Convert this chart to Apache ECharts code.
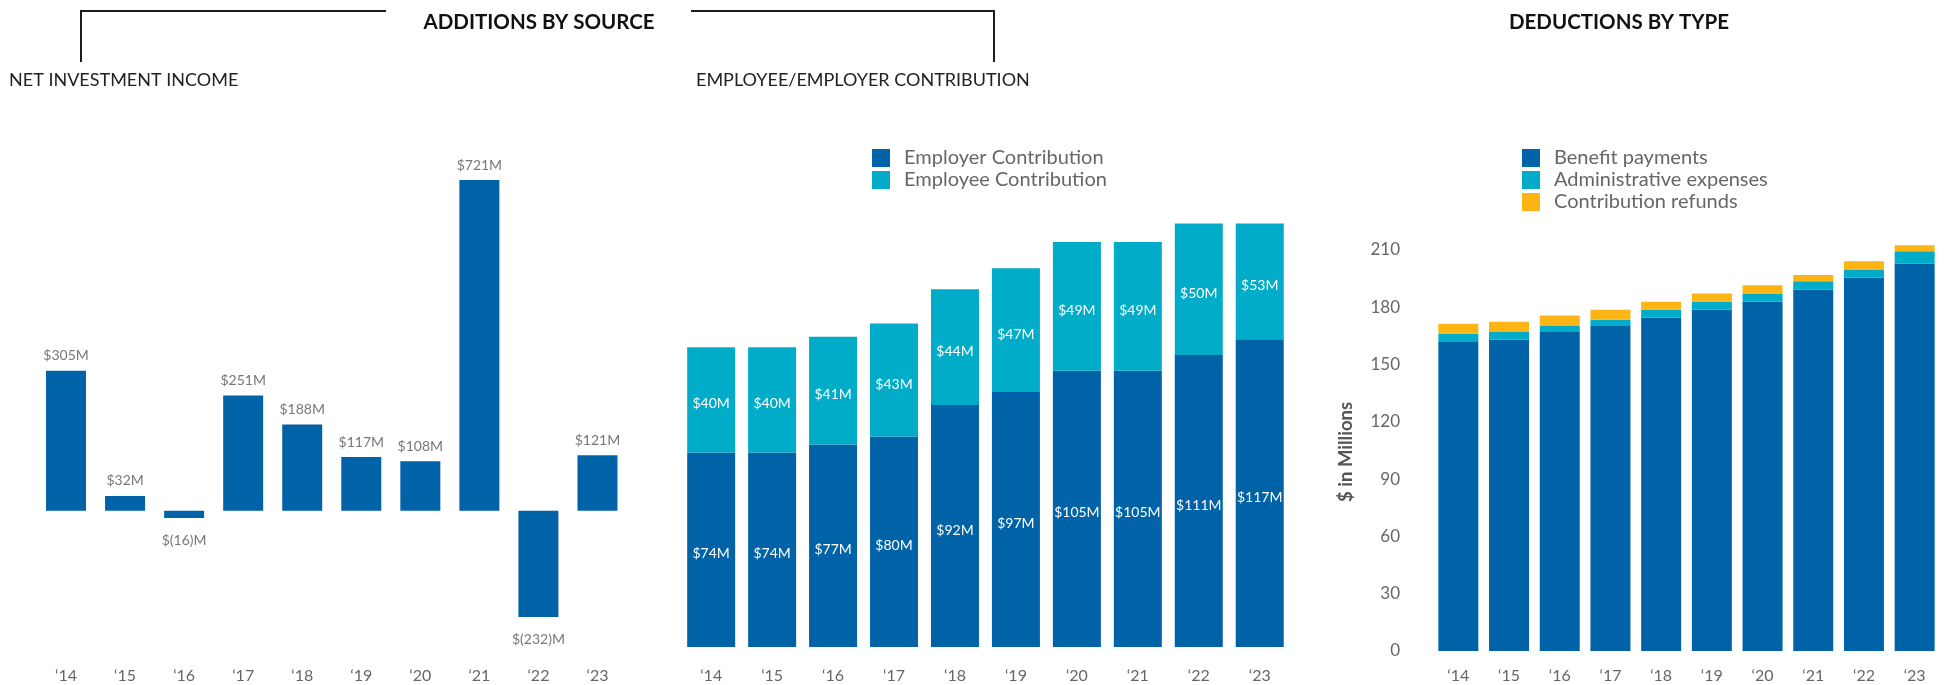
<!DOCTYPE html>
<html>
<head>
<meta charset="utf-8">
<title>Additions and Deductions</title>
<script src="https://cdn.jsdelivr.net/npm/echarts@6/dist/echarts.min.js"></script>
<style>
  html, body { margin: 0; padding: 0; background: #fff; }
  #chart { width: 1948px; height: 685px; }
</style>
</head>
<body>
<div id="chart"></div>
<script>
// Fiscal years shown on every panel
const years = ['\u201814', '\u201815', '\u201816', '\u201817', '\u201818', '\u201819', '\u201820', '\u201821', '\u201822', '\u201823'];

// Net investment income ($ millions)
const netInvestment = [305, 32, -16, 251, 188, 117, 108, 721, -232, 121];

// Contributions ($ millions)
const employerContribution = [74, 74, 77, 80, 92, 97, 105, 105, 111, 117];
const employeeContribution = [40, 40, 41, 43, 44, 47, 49, 49, 50, 53];

// Deductions ($ millions)
const benefitPayments = [161.8, 162.9, 167.0, 170.2, 174.5, 178.6, 182.9, 189.3, 195.6, 202.9];
const adminExpenses = [4.3, 4.1, 3.2, 3.2, 4.1, 4.3, 4.3, 4.3, 4.1, 6.4];
const contributionRefunds = [5.2, 5.4, 5.4, 5.2, 4.3, 4.3, 4.3, 3.2, 4.3, 3.2];

const BLUE = '#0063a7';
const TEAL = '#00acc8';
const GOLD = '#fdb515';
const FONT = 'Lato, "Open Sans", sans-serif';

function money(v) {
  return v < 0 ? '$(' + (-v) + ')M' : '$' + v + 'M';
}

const xLabelStyle = { color: '#666', fontSize: 16, fontFamily: FONT };
const legendText = { color: '#666', fontSize: 20, fontFamily: FONT, padding: [0, 0, 0, 9] };

const chart = echarts.init(document.getElementById('chart'), null, { renderer: 'canvas' });

const option = {
  animation: false,
  textStyle: { fontFamily: FONT },
  title: [
    {
      text: 'ADDITIONS BY SOURCE', left: 534, top: 7, textAlign: 'center',
      textStyle: { fontSize: 20.5, fontWeight: 'bold', color: '#111', fontFamily: FONT }
    },
    {
      text: 'DEDUCTIONS BY TYPE', left: 1614, top: 7, textAlign: 'center',
      textStyle: { fontSize: 20.5, fontWeight: 'bold', color: '#111', fontFamily: FONT }
    },
    {
      text: 'NET INVESTMENT INCOME', left: 4, top: 66,
      textStyle: { fontSize: 18, fontWeight: 'normal', color: '#222', fontFamily: FONT }
    },
    {
      text: 'EMPLOYEE/EMPLOYER CONTRIBUTION', left: 691, top: 66,
      textStyle: { fontSize: 18, fontWeight: 'normal', color: '#222', fontFamily: FONT }
    }
  ],
  graphic: [
    {
      type: 'polyline', silent: true,
      shape: { points: [[81, 62], [81, 11], [386, 11]] },
      style: { stroke: '#1a1a1a', lineWidth: 2, fill: null }
    },
    {
      type: 'polyline', silent: true,
      shape: { points: [[691, 11], [994, 11], [994, 62]] },
      style: { stroke: '#1a1a1a', lineWidth: 2, fill: null }
    }
  ],
  legend: [
    {
      data: ['Employer Contribution', 'Employee Contribution'],
      orient: 'vertical', left: 867, top: 143,
      itemWidth: 18, itemHeight: 18, itemGap: 2,
      icon: 'rect',
      selectedMode: false,
      textStyle: legendText
    },
    {
      data: ['Benefit payments', 'Administrative expenses', 'Contribution refunds'],
      orient: 'vertical', left: 1517, top: 143,
      itemWidth: 18, itemHeight: 18, itemGap: 2,
      icon: 'rect',
      selectedMode: false,
      textStyle: legendText
    }
  ],
  grid: [
    { left: 36.5, right: 1321, top: 166.7, bottom: 23 },
    { left: 680.7, right: 657.8, top: 223.6, bottom: 38 },
    { left: 1433, right: 8, top: 230.8, bottom: 34 }
  ],
  xAxis: [
    {
      type: 'category', gridIndex: 0, data: years, position: 'bottom',
      axisLine: { show: false }, axisTick: { show: false },
      axisLabel: Object.assign({ margin: 6 }, xLabelStyle)
    },
    {
      type: 'category', gridIndex: 1, data: years,
      axisLine: { show: false }, axisTick: { show: false },
      axisLabel: Object.assign({ margin: 21 }, xLabelStyle)
    },
    {
      type: 'category', gridIndex: 2, data: years,
      axisLine: { show: false }, axisTick: { show: false },
      axisLabel: Object.assign({ margin: 17 }, xLabelStyle)
    }
  ],
  yAxis: [
    {
      type: 'value', gridIndex: 0, min: -330, max: 750, show: false
    },
    {
      type: 'value', gridIndex: 1, min: 0, max: 161, show: false
    },
    {
      type: 'value', gridIndex: 2, min: 0, max: 220, interval: 30,
      axisLine: { show: false }, axisTick: { show: false },
      splitLine: { show: false },
      axisLabel: { color: '#666', fontSize: 17, fontFamily: FONT, margin: 33, showMaxLabel: false },
      name: '$ in Millions', nameLocation: 'middle', nameRotate: 90, nameGap: 77,
      nameTextStyle: { color: '#555', fontSize: 18.5, fontWeight: 'bold', fontFamily: FONT, padding: [0, 22, 0, 0] }
    }
  ],
  series: [
    {
      name: 'Net investment income', type: 'bar', xAxisIndex: 0, yAxisIndex: 0,
      barWidth: 40,
      itemStyle: { color: BLUE },
      data: netInvestment.map(v => ({
        value: v,
        label: { position: v < 0 ? 'bottom' : 'top', distance: v < 0 ? 15 : 8 }
      })),
      label: {
        show: true, color: '#777', fontSize: 14, fontFamily: FONT,
        formatter: p => money(p.value)
      }
    },
    {
      name: 'Employer Contribution', type: 'bar', xAxisIndex: 1, yAxisIndex: 1,
      stack: 'contrib', barWidth: 48,
      itemStyle: { color: BLUE },
      data: employerContribution,
      label: { show: true, position: 'inside', offset: [0, 4], color: '#fff', fontSize: 14, fontFamily: FONT, formatter: p => money(p.value) }
    },
    {
      name: 'Employee Contribution', type: 'bar', xAxisIndex: 1, yAxisIndex: 1,
      stack: 'contrib', barWidth: 48,
      itemStyle: { color: TEAL },
      data: employeeContribution,
      label: { show: true, position: 'inside', offset: [0, 4], color: '#fff', fontSize: 14, fontFamily: FONT, formatter: p => money(p.value) }
    },
    {
      name: 'Benefit payments', type: 'bar', xAxisIndex: 2, yAxisIndex: 2,
      stack: 'deduct', barWidth: 40,
      itemStyle: { color: BLUE },
      data: benefitPayments
    },
    {
      name: 'Administrative expenses', type: 'bar', xAxisIndex: 2, yAxisIndex: 2,
      stack: 'deduct', barWidth: 40,
      itemStyle: { color: TEAL },
      data: adminExpenses
    },
    {
      name: 'Contribution refunds', type: 'bar', xAxisIndex: 2, yAxisIndex: 2,
      stack: 'deduct', barWidth: 40,
      itemStyle: { color: GOLD },
      data: contributionRefunds
    }
  ]
};

chart.setOption(option);
</script>
</body>
</html>
